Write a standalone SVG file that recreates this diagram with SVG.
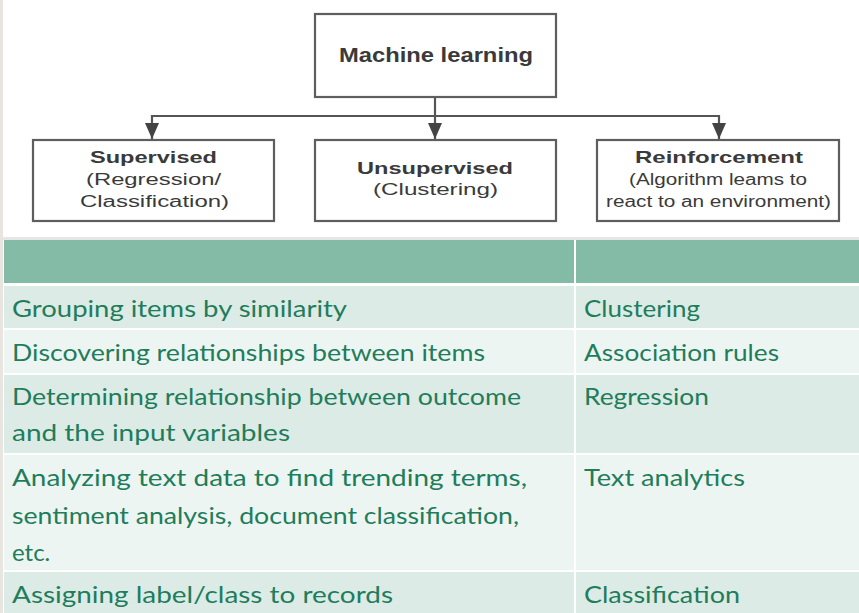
<svg xmlns="http://www.w3.org/2000/svg" width="859" height="613" viewBox="0 0 859 613">
<defs>
<style>
.box{fill:#ffffff;stroke:#5e5e5e;stroke-width:2.2}
.conn{fill:none;stroke:#555555;stroke-width:2.2}
.t{font-family:"Liberation Sans",Arial,sans-serif;fill:#3a3a3a;text-anchor:start}
.b{font-weight:bold;font-size:20px}
.h{font-weight:bold;font-size:17px}
.s{font-size:16px}
.tb{font-family:Lato,"Noto Sans",sans-serif;font-size:24px;fill:#1f7d5b}
.hd{fill:#84bba7}
.dk{fill:#dcebe6}
.lt{fill:#edf5f2}
.ah{fill:#444444}
</style>
</defs>
<rect x="0" y="0" width="859" height="613" fill="#ffffff"/>
<rect x="0" y="0" width="3" height="613" fill="#e8e4e0"/>
<rect x="3" y="237" width="856" height="3" fill="#e6e6e6"/>

<g id="connectors">
<line class="conn" x1="435" y1="97" x2="435" y2="116"/>
<path class="conn" d="M152,140 L152,116 L719,116 L719,140"/>
<path class="ah" d="M145,123 L159,123 L152,139 Z"/>
<line class="conn" x1="435" y1="116" x2="435" y2="140"/>
<path class="ah" d="M428,123 L442,123 L435,139 Z"/>
<path class="ah" d="M712,123 L726,123 L719,139 Z"/>
</g>

<g id="node-ml">
<rect class="box" x="315" y="14" width="241" height="83"/>
<text class="t b" x="339" y="62" textLength="194" lengthAdjust="spacingAndGlyphs">Machine learning</text>
</g>
<g id="node-supervised">
<rect class="box" x="33" y="140" width="241" height="81"/>
<text class="t h" x="90" y="163" textLength="127" lengthAdjust="spacingAndGlyphs">Supervised</text>
<text class="t s" x="86" y="185" textLength="135" lengthAdjust="spacingAndGlyphs">(Regression/</text>
<text class="t s" x="80" y="207" textLength="149" lengthAdjust="spacingAndGlyphs">Classification)</text>
</g>
<g id="node-unsupervised">
<rect class="box" x="315" y="140" width="241" height="81"/>
<text class="t h" x="357" y="174" textLength="156" lengthAdjust="spacingAndGlyphs">Unsupervised</text>
<text class="t s" x="373" y="195" textLength="125" lengthAdjust="spacingAndGlyphs">(Clustering)</text>
</g>
<g id="node-reinforcement">
<rect class="box" x="597" y="140" width="242" height="81"/>
<text class="t h" x="635" y="163" textLength="168" lengthAdjust="spacingAndGlyphs">Reinforcement</text>
<text class="t s" x="629" y="185" textLength="178" lengthAdjust="spacingAndGlyphs">(Algorithm leams to</text>
<text class="t s" x="606" y="207" textLength="225" lengthAdjust="spacingAndGlyphs">react to an environment)</text>
</g>

<g id="table">
<rect class="hd" x="4" y="240" width="570" height="43"/>
<rect class="hd" x="576" y="240" width="283" height="43"/>
<rect class="dk" x="4" y="286" width="570" height="42"/>
<rect class="dk" x="576" y="286" width="283" height="42"/>
<rect class="lt" x="4" y="330" width="570" height="43"/>
<rect class="lt" x="576" y="330" width="283" height="43"/>
<rect class="dk" x="4" y="375" width="570" height="78"/>
<rect class="dk" x="576" y="375" width="283" height="78"/>
<rect class="lt" x="4" y="455" width="570" height="115"/>
<rect class="lt" x="576" y="455" width="283" height="115"/>
<rect class="dk" x="4" y="572" width="570" height="41"/>
<rect class="dk" x="576" y="572" width="283" height="41"/>

<text class="tb" x="12" y="317" textLength="335" lengthAdjust="spacingAndGlyphs">Grouping items by similarity</text>
<text class="tb" x="584" y="317" textLength="116" lengthAdjust="spacingAndGlyphs">Clustering</text>
<text class="tb" x="12" y="361" textLength="473" lengthAdjust="spacingAndGlyphs">Discovering relationships between items</text>
<text class="tb" x="584" y="361" textLength="195" lengthAdjust="spacingAndGlyphs">Association rules</text>
<text class="tb" x="12" y="405" textLength="509" lengthAdjust="spacingAndGlyphs">Determining relationship between outcome</text>
<text class="tb" x="12" y="441" textLength="278" lengthAdjust="spacingAndGlyphs">and the input variables</text>
<text class="tb" x="584" y="405" textLength="125" lengthAdjust="spacingAndGlyphs">Regression</text>
<text class="tb" x="12" y="486" textLength="515" lengthAdjust="spacingAndGlyphs">Analyzing text data to find trending terms,</text>
<text class="tb" x="12" y="524" textLength="507" lengthAdjust="spacingAndGlyphs">sentiment analysis, document classification,</text>
<text class="tb" x="12" y="561">etc.</text>
<text class="tb" x="584" y="486" textLength="161" lengthAdjust="spacingAndGlyphs">Text analytics</text>
<text class="tb" x="12" y="603" textLength="381" lengthAdjust="spacingAndGlyphs">Assigning label/class to records</text>
<text class="tb" x="584" y="603" textLength="156" lengthAdjust="spacingAndGlyphs">Classification</text>
</g>
</svg>
